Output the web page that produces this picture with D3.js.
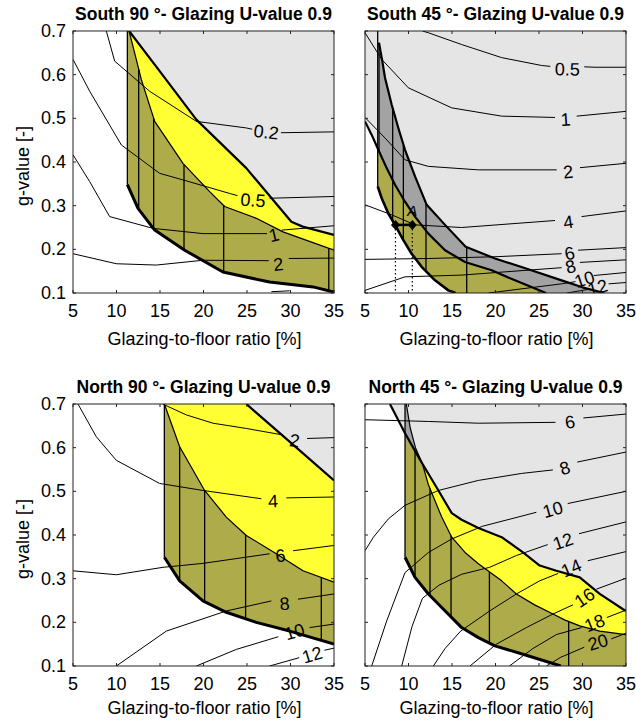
<!DOCTYPE html>
<html><head><meta charset="utf-8">
<script src="https://cdn.jsdelivr.net/npm/d3@7"></script>
<style>body{margin:0;background:#fff}svg{display:block}text{font-family:Arial,"Liberation Sans",Helvetica,sans-serif;fill:#000}</style>
</head><body><svg id="c" width="636" height="724"></svg>
<script>
// ---------- shared axes ----------
const xTicks=[5,10,15,20,25,30,35];
const yTicks=[0.1,0.2,0.3,0.4,0.5,0.6,0.7];
const xLabel="Glazing-to-floor ratio [%]";
const yLabel="g-value [-]";
const titles=["South 90 °- Glazing U-value 0.9","South 45 °- Glazing U-value 0.9","North 90 °- Glazing U-value 0.9","North 45 °- Glazing U-value 0.9"];

// ---------- South 90 ----------
const s90Upper=[[11.45,0.7],[14.96,0.608],[19.18,0.497],[24.92,0.386],[30.1,0.263],[31.4,0.252],[35,0.233]];
const s90OliveTop=[[11.45,0.7],[12.85,0.589],[14.39,0.493],[17.64,0.397],[20.71,0.332],[22.43,0.298],[26.07,0.271],[29.14,0.240],[35,0.198]];
const s90Lower=[[11.25,0.348],[12.47,0.294],[14.39,0.244],[17.84,0.198],[22.24,0.148],[27.6,0.125],[32.6,0.114],[35,0.102]];
const s90MinRatio=11.25;
const s90Hatch=[12.55,14.27,17.76,22.32,34.4];
const s90Contours=[
 {t:"0.2",a:[[8.83,0.7],[9.79,0.631],[13.81,0.562],[19.18,0.493],[24.92,0.478],[25.6,0.475]],l:[27.2,0.468],b:[[28.9,0.467],[35,0.469]]},
 {t:"0.5",a:[[5,0.635],[6.92,0.562],[10.56,0.439],[14.96,0.374],[17.64,0.359],[23,0.328],[23.9,0.323]],l:[25.7,0.312],b:[[27.6,0.317],[35,0.321]]},
 {t:"1",a:[[5,0.4165],[6.92,0.355],[9.21,0.275],[14.2,0.248],[19.94,0.236],[27.3,0.236]],l:[28.1,0.232],b:[[29.0,0.244],[35,0.254]]},
 {t:"2",a:[[5,0.190],[9.98,0.167],[14.58,0.164],[19.94,0.175],[27.5,0.174]],l:[28.6,0.165],b:[[29.8,0.179],[35,0.180]]},
 {t:"",a:[[27.8,0.103],[29.9,0.105]],l:null,b:[]}
];

// ---------- South 45 ----------
const s45Upper=[[6.61,0.673],[6.99,0.631],[7.30,0.593],[8.07,0.531],[8.83,0.478],[9.60,0.428],[10.75,0.367],[12.09,0.302],[14.20,0.256],[16.57,0.206],[19.94,0.179],[23.08,0.159],[27.6,0.129],[29.98,0.113],[32.5,0.1]];
const s45Middle=[[5,0.493],[5.77,0.462],[6.53,0.428],[7.49,0.386],[8.45,0.348],[9.6,0.309],[10.75,0.275],[12.28,0.236],[14.2,0.198],[16.49,0.171],[19.56,0.152],[22.24,0.129],[25.8,0.1]];
const s45Lower=[[6.46,0.344],[6.92,0.317],[7.68,0.282],[8.45,0.256],[9.41,0.221],[10.36,0.190],[11.51,0.160],[13.05,0.129],[14.58,0.106],[15.4,0.1]];
const s45MinRatio=[6.46,6.61];
const s45Hatch=[8.18,9.41,12.01,16.69];
const s45PointA=[[8.5,0.256],[10.44,0.256]];
const s45Contours=[
 {t:"0.5",a:[[11.6,0.7],[12.28,0.696],[16.11,0.669],[20.71,0.639],[25.3,0.621],[26.3,0.619]],l:[28.26,0.612],b:[[30.2,0.618],[31.44,0.617],[35,0.617]]},
 {t:"1",a:[[5,0.696],[6.92,0.635],[9.98,0.570],[14.96,0.524],[20.71,0.505],[26.84,0.502]],l:[28.07,0.497],b:[[29.33,0.505],[35,0.516]]},
 {t:"2",a:[[5,0.502],[7.3,0.455],[9.6,0.405],[12.28,0.390],[18.03,0.382],[27.03,0.382]],l:[28.37,0.377],b:[[29.71,0.387],[35,0.397]]},
 {t:"4",a:[[5,0.302],[8.07,0.279],[10.75,0.256],[16.11,0.250],[26.84,0.266]],l:[28.37,0.262],b:[[29.9,0.275],[35,0.288]]},
 {t:"6",a:[[5,0.177],[12.28,0.179],[19.94,0.183],[27.6,0.190]],l:[28.53,0.190],b:[[29.5,0.198],[35,0.204]]},
 {t:"8",a:[[5,0.106],[9.6,0.137],[16.1,0.141],[27.6,0.158]],l:[28.64,0.160],b:[[29.7,0.170],[35,0.176]]},
 {t:"10",a:[[19.2,0.1],[27.6,0.121],[29.2,0.126]],l:[30.25,0.131],b:[[31.3,0.14],[35,0.147]]},
 {t:"12",a:[[28.2,0.1],[30.6,0.108]],l:[31.75,0.112],b:[[33.0,0.121],[35,0.124]]}
];

// ---------- North 90 ----------
const n90Upper=[[24.92,0.7],[28.37,0.640],[31.44,0.587],[35,0.525]];
const n90OliveTop=[[15.5,0.7],[17.26,0.602],[20.13,0.502],[22.62,0.441],[24.92,0.399],[28.37,0.357],[31.44,0.318],[35,0.292]];
const n90Lower=[[15.5,0.349],[17.26,0.295],[19.94,0.249],[22.62,0.223],[26.07,0.200],[29.9,0.180],[35,0.150]];
const n90MinRatio=15.5;
const n90Hatch=[17.26,20.13,24.84,33.54];
const n90Contours=[
 {t:"2",a:[[15.3,0.7],[18.03,0.675],[21.09,0.656],[24.92,0.644],[29.14,0.629]],l:[30.48,0.616],b:[[31.9,0.621],[35,0.623]]},
 {t:"4",a:[[5.57,0.7],[7.68,0.625],[9.98,0.571],[14.96,0.518],[19.94,0.502],[26.65,0.483]],l:[27.99,0.477],b:[[29.52,0.485],[35,0.487]]},
 {t:"6",a:[[5,0.318],[9.98,0.309],[15.34,0.326],[19.94,0.335],[27.6,0.357]],l:[28.83,0.352],b:[[30.3,0.364],[35,0.376]]},
 {t:"8",a:[[9.98,0.1],[15.73,0.180],[22.62,0.226],[27.8,0.249]],l:[29.33,0.242],b:[[30.86,0.253],[35,0.265]]},
 {t:"10",a:[[19.18,0.1],[23.77,0.138],[28.6,0.167]],l:[30.48,0.178],b:[[32.2,0.188],[35,0.196]]},
 {t:"12",a:[[27.6,0.1],[31.0,0.119]],l:[32.5,0.125],b:[[33.9,0.136],[35,0.141]]}
];

// ---------- North 45 ----------
const n45Upper=[[7.87,0.7],[9.6,0.633],[11.14,0.579],[11.6,0.563],[13.44,0.502],[14.97,0.450],[16.1,0.435],[18.03,0.416],[20.71,0.395],[23.16,0.360],[25.08,0.330],[27.0,0.318],[29.68,0.303],[31.98,0.265],[34.66,0.230],[35,0.226]];
const n45OliveTop=[[9.75,0.7],[10.2,0.645],[10.8,0.6],[11.6,0.563],[12.29,0.515],[13.82,0.441],[14.97,0.395],[16.5,0.36],[18.03,0.334],[20.71,0.295],[22.4,0.265],[24.5,0.24],[26.6,0.219],[28,0.205],[29.68,0.192],[31.98,0.180],[35,0.172]];
const n45Lower=[[9.6,0.349],[10.75,0.303],[12.29,0.265],[13.82,0.234],[16.11,0.188],[18.03,0.165],[19.94,0.146],[23.16,0.127],[27.5,0.1]];
const n45MinRatio=9.6;
const n45Cross=11.6;
const n45Hatch=[10.75,12.47,14.89,19.3,28.41];
const n45Contours=[
 {t:"6",a:[[5,0.664],[12.28,0.660],[18.03,0.656],[26.9,0.658]],l:[28.56,0.658],b:[[30.1,0.668],[35,0.677]]},
 {t:"8",a:[[5,0.364],[5.97,0.395],[7.69,0.437],[9.6,0.468],[13.44,0.502],[18.03,0.525],[23.0,0.541],[26.6,0.549]],l:[27.99,0.553],b:[[29.4,0.567],[35,0.59]]},
 {t:"10",a:[[5.77,0.1],[7.49,0.203],[9.6,0.314],[12.29,0.36],[14.97,0.391],[18.5,0.42],[24.7,0.452]],l:[26.6,0.458],b:[[28.3,0.472],[35,0.5]]},
 {t:"12",a:[[9.22,0.1],[10.4,0.19],[11.6,0.255],[13.5,0.285],[16.1,0.31],[19.33,0.326],[22.4,0.353],[26.0,0.378]],l:[27.76,0.385],b:[[29.6,0.403],[35,0.43]]},
 {t:"14",a:[[12.86,0.1],[14.2,0.14],[16,0.18],[19.33,0.226],[22.4,0.265],[25.08,0.295],[27.2,0.312]],l:[28.72,0.324],b:[[30.6,0.341],[35,0.362]]},
 {t:"16",a:[[17.07,0.1],[20.1,0.15],[23.55,0.188],[26.6,0.219],[28.9,0.24]],l:[30.25,0.256],b:[[31.6,0.276],[35,0.301]]},
 {t:"18",a:[[21.6,0.1],[24.3,0.14],[27.0,0.172],[29.9,0.188]],l:[31.4,0.198],b:[[32.8,0.211],[35,0.228]]},
 {t:"20",a:[[25.85,0.1],[27.5,0.12],[30.2,0.143]],l:[31.78,0.154],b:[[33.3,0.162],[35,0.175]]}
];

// ---------- colours ----------
const cLight="#e5e5e5", cDark="#a3a3a3", cYellow="#ffff33", cOlive="#adab4a";

// ---------- layout ----------
const frames=[{x:73,y:31,left:true},{x:365,y:31,left:false},{x:73,y:404,left:true},{x:365,y:404,left:false}];
const PW=261, PH=262;
const svg=d3.select("#c");

function interp(arr,x){
  for(let i=0;i<arr.length-1;i++){
    const a=arr[i],b=arr[i+1];
    if(x>=a[0]&&x<=b[0]){const t=(x-a[0])/(b[0]-a[0]||1);return a[1]+t*(b[1]-a[1]);}
  }
  return x<arr[0][0]?arr[0][1]:arr[arr.length-1][1];
}
function seg(arr,x0,x1){
  const pts=[[x0,interp(arr,x0)]];
  arr.forEach(p=>{if(p[0]>x0&&p[0]<x1)pts.push(p);});
  pts.push([x1,interp(arr,x1)]);
  return pts;
}
const rev=a=>a.slice().reverse();

function setup(i){
  const f=frames[i];
  const xs=d3.scaleLinear().domain([5,35]).range([f.x,f.x+PW]);
  const ys=d3.scaleLinear().domain([0.1,0.7]).range([f.y+PH,f.y]);
  const line=d3.line().x(d=>xs(d[0])).y(d=>ys(d[1]));
  svg.append("clipPath").attr("id","clip"+i).append("rect").attr("x",f.x).attr("y",f.y).attr("width",PW).attr("height",PH);
  const g=svg.append("g").attr("clip-path",`url(#clip${i})`);
  g.append("rect").attr("x",f.x).attr("y",f.y).attr("width",PW).attr("height",PH).attr("fill","#fff");
  return {f,xs,ys,line,g};
}
function poly(P,pts,fill){P.g.append("path").attr("d",P.line(pts)+"Z").attr("fill",fill).attr("stroke","none");}
function stroke(P,pts,w,extra){const p=P.g.append("path").attr("d",P.line(pts)).attr("fill","none").attr("stroke","#000").attr("stroke-width",w).attr("stroke-linejoin","round");if(extra)extra(p);return p;}
function contours(P,list){
  list.forEach(c=>{
    stroke(P,c.a,1);
    if(c.b.length)stroke(P,c.b,1);
    if(c.l){
      const p0=c.a[c.a.length-1],p1=c.b[0];
      let ang=Math.atan2(P.ys(p1[1])-P.ys(p0[1]),P.xs(p1[0])-P.xs(p0[0]))*180/Math.PI;
      const X=P.xs(c.l[0]),Y=P.ys(c.l[1]);
      P.g.append("text").attr("x",X).attr("y",Y).attr("text-anchor","middle").attr("dominant-baseline","central")
        .attr("transform",`rotate(${ang.toFixed(1)},${X},${Y})`).attr("font-size","18px").text(c.t);
    }
  });
}
function vline(P,x,g0,g1,w){stroke(P,[[x,g0],[x,g1]],w);}

function axes(i,P){
  const f=P.f;
  const a=svg.append("g");
  a.append("rect").attr("x",f.x).attr("y",f.y).attr("width",PW).attr("height",PH).attr("fill","none").attr("stroke","#222").attr("stroke-width",1);
  xTicks.forEach(t=>{
    const X=P.xs(t);
    a.append("line").attr("x1",X).attr("x2",X).attr("y1",f.y+PH).attr("y2",f.y+PH-3).attr("stroke","#222");
    a.append("line").attr("x1",X).attr("x2",X).attr("y1",f.y).attr("y2",f.y+3).attr("stroke","#222");
    a.append("text").attr("x",X).attr("y",f.y+PH+24).attr("text-anchor","middle").attr("font-size","18px").text(t);
  });
  yTicks.forEach(t=>{
    const Y=P.ys(t);
    a.append("line").attr("x1",f.x).attr("x2",f.x+3).attr("y1",Y).attr("y2",Y).attr("stroke","#222");
    a.append("line").attr("x1",f.x+PW).attr("x2",f.x+PW-3).attr("y1",Y).attr("y2",Y).attr("stroke","#222");
    if(f.left)a.append("text").attr("x",f.x-7).attr("y",Y).attr("text-anchor","end").attr("dominant-baseline","central").attr("font-size","18px").text(d3.format(".1f")(t));
  });
  a.append("text").attr("x",f.x+PW/2).attr("y",f.y-11).attr("text-anchor","middle").attr("font-size","17.5px").attr("font-weight","bold").text(titles[i]);
  a.append("text").attr("x",f.x+PW/2+1).attr("y",f.y+PH+(i<2?52:48)).attr("text-anchor","middle").attr("font-size","18px").text(xLabel);
  if(f.left){
    const cx=29, cy=f.y+PH/2+4;
    a.append("text").attr("x",cx).attr("y",cy).attr("transform",`rotate(-90,${cx},${cy})`).attr("text-anchor","middle").attr("font-size","18px").text(yLabel);
  }
}

// ---------- panel 1 : South 90 ----------
(function(){
  const P=setup(0);
  poly(P,s90Upper.concat([[35,0.7]]),cLight);
  poly(P,s90Upper.concat(rev(s90OliveTop)),cYellow);
  poly(P,[[s90MinRatio,0.7]].concat(s90OliveTop,[[35,0.1]],rev(s90Lower)),cOlive);
  s90Hatch.forEach(x=>vline(P,x,interp(s90Lower,x),interp(s90OliveTop,x),1.3));
  vline(P,s90MinRatio,0.7,s90Lower[0][1],1.3);
  stroke(P,s90OliveTop,1.2);
  contours(P,s90Contours);
  stroke(P,s90Upper,2.2);
  stroke(P,s90Lower,3);
  axes(0,P);
})();

// ---------- panel 2 : South 45 ----------
(function(){
  const P=setup(1);
  const m0=s45MinRatio[0], m1=s45MinRatio[1];
  poly(P,[[5,0.1],[5,0.7],[35,0.7],[35,0.1]],cLight);
  poly(P,seg(s45Middle,5,m0).concat(s45Lower,[[5,0.1]]),"#fff");
  const endB=s45Middle[s45Middle.length-1];
  poly(P,s45Upper.concat([endB],rev(seg(s45Middle,m1,endB[0]))),cDark);
  const endC=s45Lower[s45Lower.length-1];
  poly(P,seg(s45Middle,m0,endB[0]).concat([endC],rev(s45Lower)),cOlive);
  s45Hatch.forEach(x=>{
    const lo=x<endC[0]?interp(s45Lower,x):0.1;
    vline(P,x,lo,interp(s45Upper,x),1.3);
  });
  vline(P,m0,0.7,s45Lower[0][1],1.3);
  vline(P,m1,s45Upper[0][1],interp(s45Middle,m1),1.3);
  contours(P,s45Contours);
  stroke(P,s45Upper,2.2);
  stroke(P,s45Middle,2.2);
  stroke(P,s45Lower,2.6);
  // point A
  s45PointA.forEach(p=>stroke(P,[[p[0],p[1]],[p[0],0.1]],1.2,e=>e.attr("stroke-dasharray","1.5,2.5")));
  stroke(P,s45PointA,2.5);
  s45PointA.forEach(p=>{
    const X=P.xs(p[0]),Y=P.ys(p[1]);
    P.g.append("path").attr("d",`M${X},${Y-5}L${X+4.5},${Y}L${X},${Y+5}L${X-4.5},${Y}Z`).attr("fill","#000");
  });
  const pA=s45PointA[1];
  P.g.append("text").attr("x",P.xs(pA[0])).attr("y",P.ys(pA[1])-9).attr("text-anchor","middle").attr("font-size","15px").attr("font-style","italic").text("A");
  axes(1,P);
})();

// ---------- panel 3 : North 90 ----------
(function(){
  const P=setup(2);
  poly(P,n90Upper.concat([[35,0.7]]),cLight);
  poly(P,[[n90OliveTop[0][0],0.7]].concat(n90Upper,rev(n90OliveTop)),cYellow);
  poly(P,[[n90MinRatio,0.7]].concat(n90OliveTop,[[35,n90Lower[n90Lower.length-1][1]]],rev(n90Lower)),cOlive);
  n90Hatch.forEach(x=>vline(P,x,interp(n90Lower,x),interp(n90OliveTop,x),1.3));
  vline(P,n90MinRatio,0.7,n90Lower[0][1],1.3);
  stroke(P,n90OliveTop,1.2);
  contours(P,n90Contours);
  stroke(P,n90Upper,2.2);
  stroke(P,n90Lower,3);
  axes(2,P);
})();

// ---------- panel 4 : North 45 ----------
(function(){
  const P=setup(3);
  const m=n45MinRatio, xc=n45Cross;
  poly(P,n45Upper.concat([[35,0.7]]),cLight);
  poly(P,[[m,0.7]].concat(seg(n45OliveTop,n45OliveTop[0][0],xc),rev(seg(n45Upper,m,xc))),cDark);
  poly(P,seg(n45Upper,xc,35).concat(rev(seg(n45OliveTop,xc,35))),cYellow);
  const endL=n45Lower[n45Lower.length-1];
  poly(P,seg(n45Upper,m,xc).concat(seg(n45OliveTop,xc,35),[[35,0.1]],rev(n45Lower)),cOlive);
  n45Hatch.forEach(x=>{
    const lo=x<endL[0]?interp(n45Lower,x):0.1;
    const hi=Math.min(interp(n45Upper,x),interp(n45OliveTop,x));
    vline(P,x,lo,hi,1.3);
  });
  vline(P,m,0.7,n45Lower[0][1],1.3);
  stroke(P,n45OliveTop,1.2);
  contours(P,n45Contours);
  stroke(P,n45Upper,2.2);
  stroke(P,n45Lower,3);
  axes(3,P);
})();
</script></body></html>
